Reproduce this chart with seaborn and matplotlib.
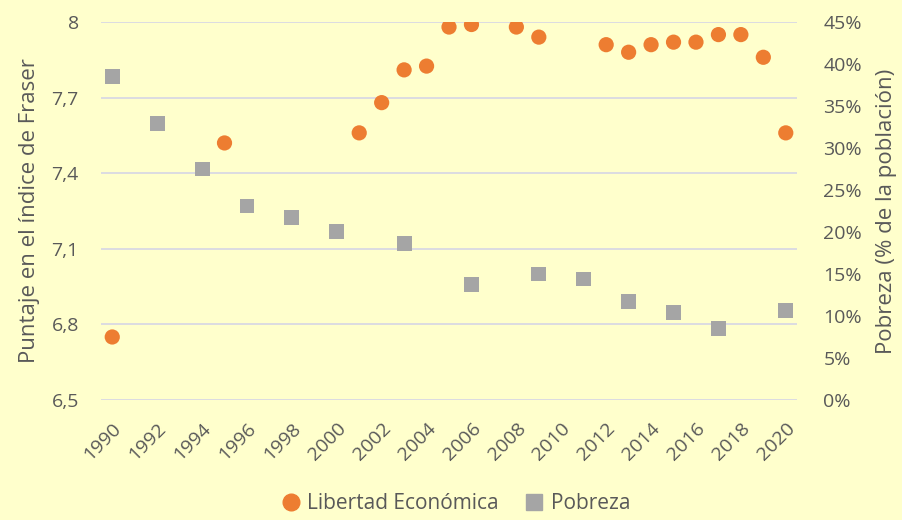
import pandas as pd
import matplotlib.pyplot as plt
import seaborn as sns
from matplotlib.ticker import FuncFormatter

# Data
libertad_years = [1990, 1995, 2001, 2002, 2003, 2004, 2005, 2006, 2008, 2009,
                  2012, 2013, 2014, 2015, 2016, 2017, 2018, 2019, 2020]
libertad_score = [6.75, 7.52, 7.56, 7.68, 7.81, 7.825, 7.98, 7.99, 7.98, 7.94,
                  7.91, 7.88, 7.91, 7.92, 7.92, 7.95, 7.95, 7.86, 7.56]
pobreza_years = [1990, 1992, 1994, 1996, 1998, 2000, 2003, 2006, 2009, 2011,
                 2013, 2015, 2017, 2020]
pobreza_pct = [38.5, 32.9, 27.5, 23.1, 21.7, 20.1, 18.6, 13.7, 15.0, 14.4,
               11.7, 10.4, 8.5, 10.7]

bg = '#FFFFCC'
text_color = '#595959'
orange = '#ED7D31'
gray = '#A5A5A5'

sns.set_style('white')
plt.rcParams['font.family'] = ['Open Sans', 'DejaVu Sans']

lib_df = pd.DataFrame({'Año': libertad_years, 'Puntaje': libertad_score})
pob_df = pd.DataFrame({'Año': pobreza_years, 'Pobreza': pobreza_pct})

fig, ax = plt.subplots(figsize=(9.02, 5.2), dpi=100)
fig.patch.set_facecolor(bg)
ax.set_facecolor(bg)
fig.subplots_adjust(left=0.112, right=0.8836, top=0.9577, bottom=0.2308)

ax2 = ax.twinx()

sns.scatterplot(data=lib_df, x='Año', y='Puntaje', ax=ax, color=orange,
                marker='o', s=120, edgecolor='none', zorder=3, legend=False)
sns.scatterplot(data=pob_df, x='Año', y='Pobreza', ax=ax2, color=gray,
                marker='s', s=115, edgecolor='none', zorder=3, legend=False)

ax.set_xlim(1989.5, 2020.5)
ax.set_ylim(6.5, 8.0)
ax2.set_ylim(0, 45)
ax.set_yticks([6.5, 6.8, 7.1, 7.4, 7.7, 8.0])
ax.yaxis.set_major_formatter(FuncFormatter(lambda v, p: f'{v:g}'.replace('.', ',')))
ax2.set_yticks(range(0, 50, 5))
ax2.yaxis.set_major_formatter(FuncFormatter(lambda v, p: f'{int(round(v))}%'))
ax.set_xticks(range(1990, 2021, 2))
ax.set_xticklabels([str(y) for y in range(1990, 2021, 2)], rotation=45,
                   ha='right', rotation_mode='anchor')

ax.grid(axis='y', color='#D9D9E3', linewidth=1.3, zorder=0)
ax.set_axisbelow(True)
for a in (ax, ax2):
    for sp in a.spines.values():
        sp.set_visible(False)
    a.tick_params(length=0, labelsize=14, colors=text_color)

ax.tick_params(axis='y', pad=16)
ax2.tick_params(axis='y', pad=19)
ax.tick_params(axis='x', pad=14)

ax.set_xlabel('')
ax.set_ylabel('Puntaje en el índice de Fraser', fontsize=16, color=text_color, labelpad=8)
ax2.set_ylabel('Pobreza (% de la población)', fontsize=16, color=text_color,
               rotation=90, labelpad=10)

handles = [
    plt.Line2D([], [], marker='o', linestyle='', color=orange, markersize=12),
    plt.Line2D([], [], marker='s', linestyle='', color=gray, markersize=12),
]
fig.legend(handles, ['Libertad Económica', 'Pobreza'], loc='lower center',
           bbox_to_anchor=(0.505, -0.025), ncol=2, frameon=False, fontsize=15,
           labelcolor=text_color, handlelength=1.0, handletextpad=0.3,
           columnspacing=1.2)

fig.savefig('out.png', dpi=100, facecolor=bg)
